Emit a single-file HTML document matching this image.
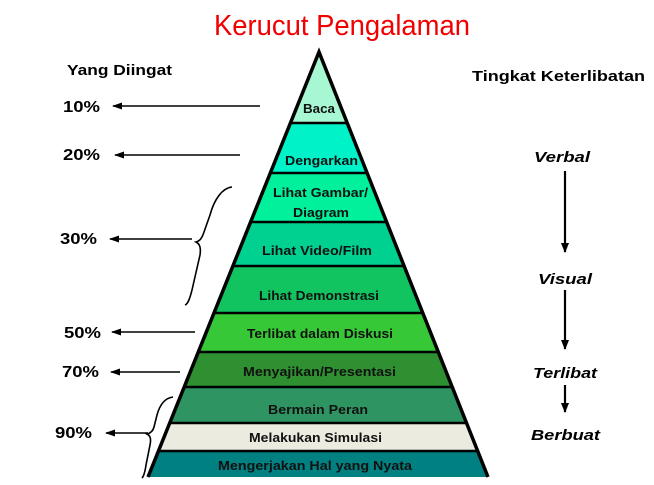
<!DOCTYPE html>
<html><head><meta charset="utf-8"><style>
html,body{margin:0;padding:0;background:#fff;}
svg{display:block;}
text{font-family:"Liberation Sans",sans-serif;font-weight:bold;}
</style></head><body>
<svg width="654" height="485" viewBox="0 0 654 485" xmlns="http://www.w3.org/2000/svg">
<defs>
<clipPath id="tri"><polygon points="319,52 148,477 488,477"/></clipPath>
<marker id="ah" markerWidth="10" markerHeight="10" refX="9" refY="5" orient="auto" markerUnits="userSpaceOnUse"><path d="M0,1.5 L10,5 L0,8.5 Z" fill="#000"/></marker>
<marker id="ad" markerWidth="10" markerHeight="10" refX="5" refY="9" orient="0" markerUnits="userSpaceOnUse"><path d="M1,0 L9,0 L5,10 Z" fill="#000"/></marker>
</defs>
<text x="214" y="35" font-size="29" fill="#f00000" style="font-weight:normal" textLength="256" lengthAdjust="spacingAndGlyphs">Kerucut Pengalaman</text>
<text x="67" y="75" font-size="15" textLength="105" lengthAdjust="spacingAndGlyphs">Yang Diingat</text>
<text x="472" y="81" font-size="15" textLength="173" lengthAdjust="spacingAndGlyphs">Tingkat Keterlibatan</text>

<g clip-path="url(#tri)">
<rect x="0" y="40" width="654" height="83" fill="#a6f7d2"/>
<rect x="0" y="123" width="654" height="50" fill="#00f2c8"/>
<rect x="0" y="173" width="654" height="49" fill="#00f09c"/>
<rect x="0" y="222" width="654" height="44" fill="#00d090"/>
<rect x="0" y="266" width="654" height="47" fill="#12c460"/>
<rect x="0" y="313" width="654" height="39" fill="#36c836"/>
<rect x="0" y="352" width="654" height="35" fill="#2e9030"/>
<rect x="0" y="387" width="654" height="36" fill="#2e9462"/>
<rect x="0" y="423" width="654" height="28" fill="#ecebe0"/>
<rect x="0" y="451" width="654" height="30" fill="#008080"/>
<g stroke="#000" stroke-width="2.5">
<line x1="0" y1="123" x2="654" y2="123"/>
<line x1="0" y1="173" x2="654" y2="173"/>
<line x1="0" y1="222" x2="654" y2="222"/>
<line x1="0" y1="266" x2="654" y2="266"/>
<line x1="0" y1="313" x2="654" y2="313"/>
<line x1="0" y1="352" x2="654" y2="352"/>
<line x1="0" y1="387" x2="654" y2="387"/>
<line x1="0" y1="423" x2="654" y2="423"/>
<line x1="0" y1="451" x2="654" y2="451"/>
</g>
</g>
<polyline points="148,477 319,52 488,477" fill="none" stroke="#000" stroke-width="3.5" stroke-linejoin="miter"/>

<g font-size="12.5" fill="#111">
<text x="303" y="113" textLength="32" lengthAdjust="spacingAndGlyphs">Baca</text>
<text x="285" y="165" textLength="73" lengthAdjust="spacingAndGlyphs">Dengarkan</text>
<text x="273" y="197" textLength="95" lengthAdjust="spacingAndGlyphs">Lihat Gambar/</text>
<text x="293" y="217" textLength="56" lengthAdjust="spacingAndGlyphs">Diagram</text>
<text x="262" y="255" textLength="110" lengthAdjust="spacingAndGlyphs">Lihat Video/Film</text>
<text x="259" y="300" textLength="120" lengthAdjust="spacingAndGlyphs">Lihat Demonstrasi</text>
<text x="247" y="338" textLength="146" lengthAdjust="spacingAndGlyphs">Terlibat dalam Diskusi</text>
<text x="243" y="376" textLength="153" lengthAdjust="spacingAndGlyphs">Menyajikan/Presentasi</text>
<text x="268" y="414" textLength="100" lengthAdjust="spacingAndGlyphs">Bermain Peran</text>
<text x="249" y="442" textLength="133" lengthAdjust="spacingAndGlyphs">Melakukan Simulasi</text>
<text x="218" y="470" textLength="194" lengthAdjust="spacingAndGlyphs">Mengerjakan Hal yang Nyata</text>
</g>

<g font-size="16">
<text x="63" y="112" textLength="37" lengthAdjust="spacingAndGlyphs">10%</text>
<text x="63" y="160" textLength="37" lengthAdjust="spacingAndGlyphs">20%</text>
<text x="60" y="244" textLength="37" lengthAdjust="spacingAndGlyphs">30%</text>
<text x="64" y="338" textLength="37" lengthAdjust="spacingAndGlyphs">50%</text>
<text x="62" y="377" textLength="37" lengthAdjust="spacingAndGlyphs">70%</text>
<text x="55" y="438" textLength="37" lengthAdjust="spacingAndGlyphs">90%</text>
</g>
<g stroke="#000" stroke-width="1.6" fill="none">
<line x1="260" y1="106" x2="113" y2="106" marker-end="url(#ah)"/>
<line x1="240" y1="155" x2="115" y2="155" marker-end="url(#ah)"/>
<line x1="192" y1="239" x2="110" y2="239" marker-end="url(#ah)"/>
<line x1="195" y1="332" x2="112" y2="332" marker-end="url(#ah)"/>
<line x1="180" y1="372" x2="111" y2="372" marker-end="url(#ah)"/>
<line x1="148" y1="433" x2="106" y2="433" marker-end="url(#ah)"/>
<path d="M232,187 C222,188 214,200 210,215 L204,232 C202,238 200,241 196,242 C200,244 201,248 200,255 L192,290 C190,298 188,304 185,305"/>
<path d="M173,397 C165,398 160,404 157,415 L154,427 C153,431 151,433 147,434 C151,436 151,440 150,445 L146,465 C145,472 144,476 142,478"/>
</g>

<g font-size="15" font-style="italic">
<text x="534" y="162" textLength="56" lengthAdjust="spacingAndGlyphs">Verbal</text>
<text x="538" y="284" textLength="54" lengthAdjust="spacingAndGlyphs">Visual</text>
<text x="533" y="378" textLength="64" lengthAdjust="spacingAndGlyphs">Terlibat</text>
<text x="531" y="440" textLength="69" lengthAdjust="spacingAndGlyphs">Berbuat</text>
</g>
<g stroke="#000" stroke-width="2.2">
<line x1="565" y1="171" x2="565" y2="252" marker-end="url(#ad)"/>
<line x1="565" y1="290" x2="565" y2="349" marker-end="url(#ad)"/>
<line x1="565" y1="385" x2="565" y2="412" marker-end="url(#ad)"/>
</g>
</svg>
</body></html>
